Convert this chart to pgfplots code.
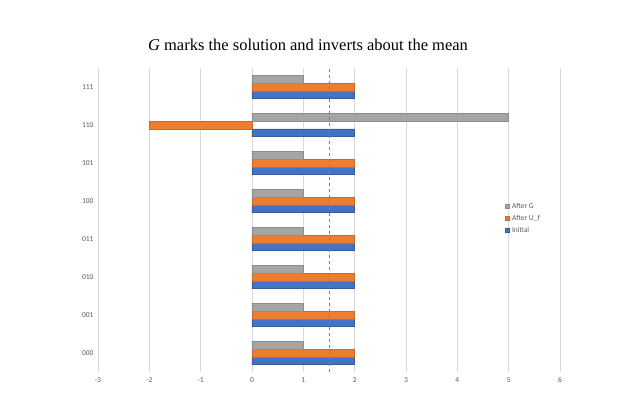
\documentclass[border=0pt]{standalone}
\usepackage{fontspec}
\setmainfont{Liberation Serif}
\newfontfamily\calib{Carlito}
\usepackage{pgfplots}
\pgfplotsset{compat=1.18}
\definecolor{cblue}{HTML}{4472C4}
\definecolor{corange}{HTML}{ED7D31}
\definecolor{cgray}{HTML}{A5A5A5}
\definecolor{gridc}{HTML}{D9D9D9}
\definecolor{txt}{HTML}{595959}
\begin{document}
\begin{tikzpicture}[x=1pt,y=1pt]
\useasboundingbox (0,0) rectangle (640,397);
\node[font=\fontsize{16.5}{20}\selectfont] at (308,352) {\textit{G} marks the solution and inverts about the mean};
\pgfplotsset{common/.style={
  at={(98pt,25pt)}, anchor=south west,
  scale only axis, width=462pt, height=304pt,
  xmin=-3, xmax=6, ymin=-0.5, ymax=7.5}}
\begin{axis}[common,
  xbar=0pt, bar width=7.8pt,
  xtick={-3,...,6}, ytick={0,...,7},
  yticklabels={000,001,010,011,100,101,110,111},
  axis line style={draw=none},
  major tick length=0pt,
  xmajorgrids, grid style={gridc, line width=0.8pt},
  ticklabel style={font=\calib\fontsize{7.5}{9}\selectfont, text=txt},
  /pgf/number format/assume math mode=true,
  xticklabel style={yshift=-2pt},
  yticklabel style={xshift=-1pt},
  legend style={at={(0.875,0.57)}, anchor=north west, draw=none, fill=none,
    font=\calib\fontsize{7.5}{9}\selectfont, text=txt, row sep=1.5pt,
    legend cell align=left},
  reverse legend,
  legend image code/.code={\fill[#1] (0.5pt,-2pt) rectangle (4.5pt,2pt);},
]
\addplot[fill=cblue, draw=cblue!80!black, line width=0.6pt] coordinates {(2,0)(2,1)(2,2)(2,3)(2,4)(2,5)(2,6)(2,7)};
\addlegendentry{Initial}
\addplot[fill=corange, draw=corange!85!black, line width=0.6pt] coordinates {(2,0)(2,1)(2,2)(2,3)(2,4)(2,5)(-2,6)(2,7)};
\addlegendentry{After U\_f}
\addplot[fill=cgray, draw=cgray!85!black, line width=0.6pt] coordinates {(1,0)(1,1)(1,2)(1,3)(1,4)(1,5)(5,6)(1,7)};
\addlegendentry{After G}
\end{axis}
\begin{axis}[common, hide axis]
\addplot[draw=gray, dashed, line width=0.6pt] coordinates {(1.5,-0.5)(1.5,7.5)};
\end{axis}
\end{tikzpicture}
\end{document}
